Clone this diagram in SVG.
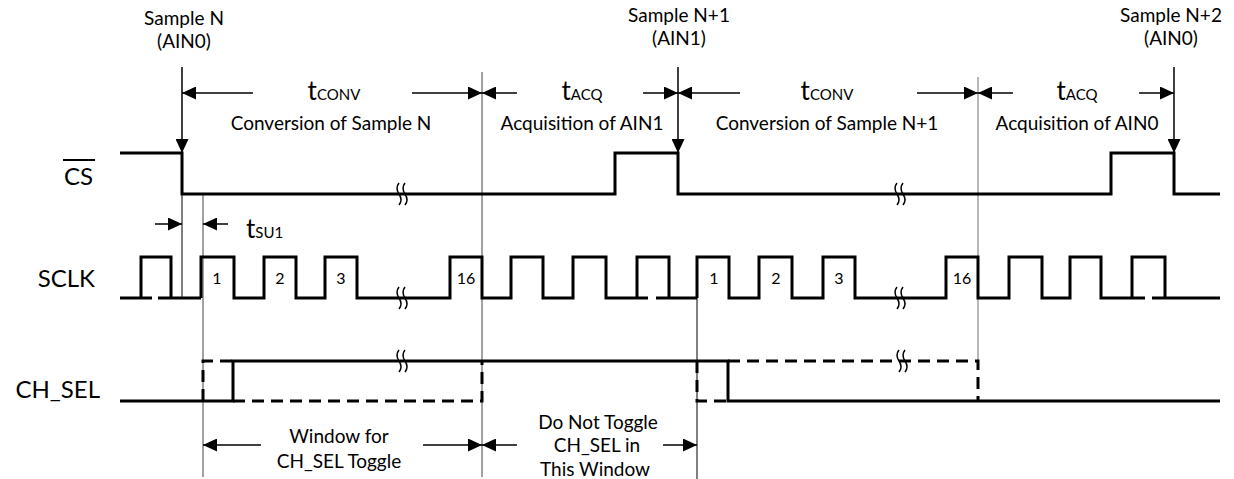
<svg xmlns="http://www.w3.org/2000/svg" width="1234" height="479" viewBox="0 0 1234 479">
<style>
text { font-family: Lato, "Noto Sans", "Liberation Sans", sans-serif; fill: #000; }
.lbl { font-size: 24px; text-anchor: end; }
.t { font-size: 19px; text-anchor: middle; }
.num { font-size: 16px; text-anchor: middle; }
.big { font-size: 26px; }
.sub { font-size: 15px; }
.wave { fill: none; stroke: #000; stroke-width: 3; stroke-linejoin: miter; }
.dash { fill: none; stroke: #000; stroke-width: 3; stroke-dasharray: 12 7; }
.thin { fill: none; stroke: #000; stroke-width: 1; }
.grey { fill: none; stroke: #444; stroke-width: 1; }
.lgrey { fill: none; stroke: #888; stroke-width: 1.2; }
.arr { fill: none; stroke: #000; stroke-width: 1.5; marker-end: url(#ah); }
.brk { fill: none; stroke: #000; stroke-width: 1.5; }
</style>
<defs>
<marker id="ah" markerUnits="userSpaceOnUse" markerWidth="15" markerHeight="13" refX="14" refY="6.5" orient="auto">
<path d="M0,0 L14,6.5 L0,13 z" fill="#000"/>
</marker>
<path id="bk" d="M-3,-11 q-4,5 0,11 q4,6 0,11 M3,-11 q-4,5 0,11 q4,6 0,11" class="brk"/>
</defs>

<g id="connectors">
<line class="arr" x1="182" y1="67" x2="182" y2="153"/>
<line class="thin" x1="182" y1="194" x2="182" y2="298"/>
<line class="arr" x1="678" y1="67" x2="678" y2="153"/>
<line class="arr" x1="1174" y1="67" x2="1174" y2="153"/>
<line class="grey" x1="203" y1="194" x2="203" y2="477"/>
<line class="grey" x1="482" y1="72" x2="482" y2="477"/>
<line class="thin" x1="697" y1="298" x2="697" y2="479"/>
<line class="lgrey" x1="978" y1="77" x2="978" y2="361"/>
<line class="arr" x1="253" y1="93" x2="182" y2="93"/>
<line class="arr" x1="412" y1="93" x2="482" y2="93"/>
<line class="arr" x1="517" y1="93" x2="482" y2="93"/>
<line class="arr" x1="643" y1="93" x2="678" y2="93"/>
<line class="arr" x1="740" y1="93" x2="678" y2="93"/>
<line class="arr" x1="917" y1="93" x2="978" y2="93"/>
<line class="arr" x1="1013" y1="93" x2="978" y2="93"/>
<line class="arr" x1="1139" y1="93" x2="1174" y2="93"/>
<line class="arr" x1="155" y1="224" x2="182" y2="224"/>
<line class="arr" x1="228" y1="224" x2="203" y2="224"/>
<line class="arr" x1="261" y1="445" x2="203" y2="445"/>
<line class="arr" x1="423" y1="445" x2="482" y2="445"/>
<line class="arr" x1="517" y1="445" x2="482" y2="445"/>
<line class="arr" x1="663" y1="445" x2="697" y2="445"/>
</g>

<g id="annotations">
<text class="t" x="184" y="25">Sample N</text>
<text class="t" x="184" y="48">(AIN0)</text>
<text class="t" x="679" y="22">Sample N+1</text>
<text class="t" x="679" y="45">(AIN1)</text>
<text class="t" x="1171" y="22">Sample N+2</text>
<text class="t" x="1171" y="45">(AIN0)</text>
<text class="t" x="334" y="100"><tspan class="big">t</tspan><tspan class="sub">CONV</tspan></text>
<text class="t" x="331" y="130">Conversion of Sample N</text>
<text class="t" x="582" y="100"><tspan class="big">t</tspan><tspan class="sub">ACQ</tspan></text>
<text class="t" x="582" y="130">Acquisition of AIN1</text>
<text class="t" x="827" y="100"><tspan class="big">t</tspan><tspan class="sub">CONV</tspan></text>
<text class="t" x="827" y="130">Conversion of Sample N+1</text>
<text class="t" x="1077" y="100"><tspan class="big">t</tspan><tspan class="sub">ACQ</tspan></text>
<text class="t" x="1077" y="130">Acquisition of AIN0</text>
<text x="246" y="238"><tspan class="big">t</tspan><tspan class="sub">SU1</tspan></text>
<text class="t" x="339" y="443">Window for</text>
<text class="t" x="339" y="468">CH_SEL Toggle</text>
<text class="t" x="598" y="429">Do Not Toggle</text>
<text class="t" x="597" y="452">CH_SEL in</text>
<text class="t" x="595" y="476">This Window</text>
</g>

<g id="cs">
<text class="lbl" x="93" y="185">CS</text>
<line x1="63" y1="160" x2="95" y2="160" stroke="#000" stroke-width="2"/>
<path class="wave" d="M120 153 H182 V194 H615 V153 H678 V194 H1111 V153 H1174 V194 H1220"/>
<use href="#bk" x="402" y="194"/>
<use href="#bk" x="900" y="194"/>
</g>

<g id="sclk">
<text class="lbl" x="95" y="287">SCLK</text>
<path class="wave" d="M120 298 H152 M158 298 H201 M141 298 V257 H171 V298"/>
<path class="wave" d="M201 298 V257 H234 V298 H264 V257 H296 V298 H325 V257 H357 V298 H450 V257 H482 V298 H511 V257 H543 V298 H573 V257 H606 V298 H648 M656 298 H697 M637 298 V257 H669 V298"/>
<path class="wave" d="M697 298 V257 H729 V298 H759 V257 H792 V298 H823 V257 H855 V298 H946 V257 H978 V298 H1009 V257 H1042 V298 H1070 V257 H1101 V298 H1145 M1152 298 H1220 M1132 298 V257 H1165 V298"/>
<use href="#bk" x="402" y="298"/>
<use href="#bk" x="900" y="298"/>
<text class="num" x="217" y="284">1</text>
<text class="num" x="280" y="284">2</text>
<text class="num" x="341" y="284">3</text>
<text class="num" x="466" y="284">16</text>
<text class="num" x="714" y="284">1</text>
<text class="num" x="776" y="284">2</text>
<text class="num" x="839" y="284">3</text>
<text class="num" x="962" y="284">16</text>
</g>

<g id="ch_sel">
<text class="lbl" x="100" y="398">CH_SEL</text>
<path class="wave" d="M120 401 H233 V361 H728 V401 H1220"/>
<path class="dash" d="M203 401 V361 H233"/>
<path class="dash" d="M233 401 H482 V361"/>
<path class="dash" d="M697 361 V401 H728"/>
<path class="dash" d="M728 361 H978 V401"/>
<use href="#bk" x="402" y="361"/>
<use href="#bk" x="902" y="361"/>
</g>
</svg>
